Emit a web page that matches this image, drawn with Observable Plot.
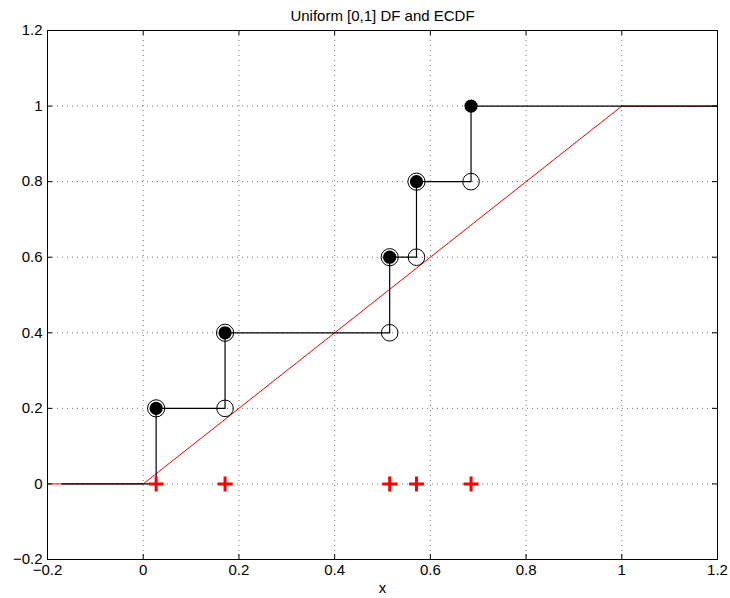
<!DOCTYPE html>
<html>
<head>
<meta charset="utf-8">
<script src="https://cdn.jsdelivr.net/npm/d3@7"></script>
<script src="https://cdn.jsdelivr.net/npm/@observablehq/plot@0.6"></script>
<style>
  html, body { margin: 0; padding: 0; background: #fff; }
  #chart svg { display: block; }
</style>
</head>
<body>
<div id="chart"></div>
<script>
const titleText = "Uniform [0,1] DF and ECDF";
const xLabel = "x";
const xDomain = [-0.2, 1.2];
const yDomain = [-0.2, 1.2];
const xTicks = [-0.2, 0, 0.2, 0.4, 0.6, 0.8, 1, 1.2];
const yTicks = [-0.2, 0, 0.2, 0.4, 0.6, 0.8, 1, 1.2];

// sorted sample values
const samples = [0.027, 0.171, 0.515, 0.571, 0.685];
// ECDF values at each sample
const ecdfVals = [0.2, 0.4, 0.6, 0.8, 1.0];
// ECDF left limits (values just before each jump)
const ecdfLeft = [0, 0.2, 0.4, 0.6, 0.8];
// ECDF start and end x
const ecdfStartX = -0.17;
const ecdfEndX = 1.2;

// true uniform DF
const dfX = [-0.2, 0, 1, 1.2];
const dfY = [0, 0, 1, 1];

// build tables
const dfData = dfX.map((x, i) => ({x, y: dfY[i]}));
const stepData = [{x: ecdfStartX, y: 0}]
  .concat(samples.map((x, i) => ({x, y: ecdfVals[i]})))
  .concat([{x: ecdfEndX, y: ecdfVals[ecdfVals.length - 1]}]);
const filledPts = samples.map((x, i) => ({x, y: ecdfVals[i]}));
const openPts = samples.map((x, i) => ({x, y: ecdfLeft[i]})).slice(1);
const ringPts = filledPts.slice(0, -1);
const crossPts = samples.map(x => ({x, y: 0}));

const fmt = d => (d < 0 ? "\u2212" : "") + Math.abs(d);
const innerX = xTicks.filter(d => d > xDomain[0] && d < xDomain[1]);
const innerY = yTicks.filter(d => d > yDomain[0] && d < yDomain[1]);

const plusSymbol = {
  draw(ctx, size) {
    const r = Math.sqrt(size / Math.PI);
    ctx.moveTo(-r, 0); ctx.lineTo(r, 0);
    ctx.moveTo(0, -r); ctx.lineTo(0, r);
  }
};

const W = 730, H = 598;
const mT = 30, mB = 39, mL = 47, mR = 13;
const innerH = H - mT - mB, innerW = W - mL - mR;
const tick = 5;

const chart = Plot.plot({
  width: W, height: H,
  marginTop: mT, marginBottom: mB, marginLeft: mL, marginRight: mR,
  style: {fontFamily: "'Liberation Sans', Arial, Helvetica, sans-serif", background: "#fff", color: "#000"},
  x: {domain: xDomain},
  y: {domain: yDomain},
  marks: [
    Plot.gridX(innerX, {stroke: "#000", strokeOpacity: 0.55, strokeDasharray: "1,4"}),
    Plot.gridY(innerY, {stroke: "#000", strokeOpacity: 0.55, strokeDasharray: "1,4"}),
    Plot.line(dfData, {x: "x", y: "y", stroke: "#ff0000", strokeWidth: 1}),
    Plot.line(stepData, {x: "x", y: "y", curve: "step-after", stroke: "#000", strokeWidth: 1.2}),
    Plot.dot(openPts, {x: "x", y: "y", r: 8.3, fill: "none", stroke: "#000", strokeWidth: 1}),
    Plot.dot(ringPts, {x: "x", y: "y", r: 8.6, fill: "none", stroke: "#000", strokeWidth: 1}),
    Plot.dot(filledPts, {x: "x", y: "y", r: 6.6, fill: "#000", stroke: "none"}),
    Plot.dot(crossPts, {x: "x", y: "y", r: 7.5, symbol: plusSymbol, fill: "none", stroke: "#ff0000", strokeWidth: 3, strokeLinecap: "butt"}),
    Plot.frame({stroke: "#000", strokeWidth: 1}),
    // inward ticks
    Plot.tickX(innerX, {x: d => d, insetTop: innerH - tick, stroke: "#000"}),
    Plot.tickX(innerX, {x: d => d, insetBottom: innerH - tick, stroke: "#000"}),
    Plot.tickY(innerY, {y: d => d, insetRight: innerW - tick, stroke: "#000"}),
    Plot.tickY(innerY, {y: d => d, insetLeft: innerW - tick, stroke: "#000"}),
    Plot.axisX(xTicks, {tickSize: 0, tickPadding: 5, fontSize: 15, tickFormat: fmt, label: null}),
    Plot.axisY(yTicks, {tickSize: 0, tickPadding: 5, fontSize: 15, tickFormat: fmt, label: null}),
    Plot.text([xLabel], {frameAnchor: "bottom", dy: 33, fontSize: 15}),
    Plot.text([titleText], {frameAnchor: "top", dy: -20, fontSize: 15})
  ]
});
document.getElementById("chart").appendChild(chart);
</script>
</body>
</html>
